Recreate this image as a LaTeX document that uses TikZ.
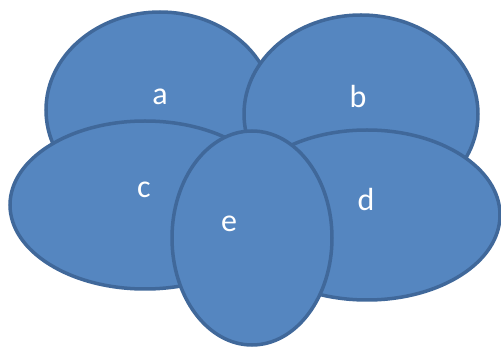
\documentclass[tikz,border=0pt]{standalone}
\usepackage{fontspec}
\setmainfont{Carlito}
\usetikzlibrary{shapes.geometric}
\definecolor{petalfill}{HTML}{5586C0}
\definecolor{petaledge}{HTML}{40689A}

\begin{document}
\begin{tikzpicture}[x=1pt, y=-1pt,
    petal/.style={ellipse, draw=petaledge, fill=petalfill, line width=3.5pt, inner sep=0pt},
    petallabel/.style={text=white, font=\fontsize{32}{36}\selectfont}]
    \useasboundingbox (0,0) rectangle (501,347);

    % Back row
    \node[petal, minimum width=228pt, minimum height=196pt] (a) at (160,110) {};
    \node[petal, minimum width=234pt, minimum height=198pt] (b) at (361,114) {};

    % Front row
    \node[petal, minimum width=270pt, minimum height=168pt] (c) at (145,205) {};
    \node[petal, minimum width=266pt, minimum height=170pt] (d) at (367,215) {};
    \node[petal, minimum width=160pt, minimum height=214pt] (e) at (252,238) {};

    % Labels
    \node[petallabel] (la) at (160,97) {a};
    \node[petallabel] (lb) at (358,97) {b};
    \node[petallabel] (lc) at (144,190) {c};
    \node[petallabel] (ld) at (366,200) {d};
    \node[petallabel] (le) at (229,224) {e};
\end{tikzpicture}
\end{document}
